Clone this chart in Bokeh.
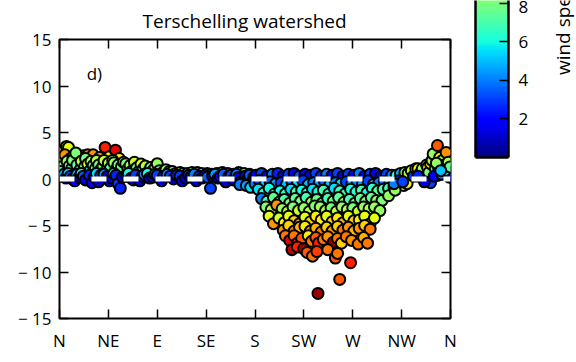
import numpy as np
from bokeh.plotting import figure
from bokeh.models import (ColumnDataSource, LinearColorMapper, Range1d, LinearAxis,
                          FixedTicker, Label, Span, CustomLabelingPolicy)
from bokeh.transform import transform
from bokeh.layouts import row
from bokeh.embed import file_html
from bokeh.resources import INLINE

FONT = "Open Sans"

# ---- data: wind direction (deg), setup, wind speed (m/s) ----
# northerly to north-easterly winds: positive setup
ne_dir = [2, 4, 6.4, 8.3, 5, 10, 13, 18, 22, 26, 31, 37, 42, 46, 51.5, 55,
          1, 3, 5, 7, 9, 11, 12, 15, 16, 19, 20, 23, 24, 26, 28, 29, 31, 33, 34, 36,
          38, 40, 41, 43, 45, 47, 49, 50, 52, 54, 57, 59, 0.5,
          2, 4, 6, 8, 10, 12, 14, 16, 18, 20, 22, 24, 27.6, 30, 32, 34, 36, 38, 41,
          44, 46, 48, 50, 52, 54, 56, 58]
ne_surge = [2.4, 3.1, 3.5, 3.4, 2.6, 2.2, 2.5, 2.3, 2.5, 2.6, 2.6, 2.3, 3.4, 2.4, 3.1, 2.2,
            1.0, 1.35, 0.9, 1.9, 1.4, 1.1, 2.0, 2.8, 1.5, 1.0, 1.9, 1.3, 2.2, 1.6, 0.9, 1.9,
            1.45, 1.1, 2.0, 1.5, 1.0, 1.35, 2.0, 0.9, 1.7, 1.2, 2.0, 1.75, 1.0, 1.5, 1.3, 1.8, 0.8,
            0.3, 0.5, 0.1, 0.6, 0.3, 0.0, -0.2, 0.5, 0.2, 0.6, 0.3, -0.1, 0.4, -0.4, 0.2, 0.6,
            -0.3, 0.4, 0.5, 0.3, -0.2, 0.1, 0.6, 0.4, -0.5, -1.0, 0.2]
ne_speed = [10.5, 11, 10.5, 10, 12, 10, 11.5, 10, 12, 12.5, 12, 12, 14, 10.5, 14.5, 10.5,
            7, 8, 6.5, 8.5, 9, 7, 8, 8, 7.5, 6, 9, 8, 8, 10, 6, 8.5,
            8, 7, 9, 8, 6.5, 8, 9.5, 6.5, 9, 7.5, 8.5, 8.5, 6, 8, 7.5, 9, 7,
            2, 4.5, 1.5, 5.5, 3, 1, 2, 5, 1, 6, 3.5, 1.5, 2.5, 2, 2, 5.5,
            1, 3, 4.5, 2, 1.5, 1.5, 6, 2.5, 3, 2.5, 1]

# easterly to southerly winds: setup close to zero
e_dir = [61, 63, 65, 67, 69, 71, 73, 75, 77, 79, 82, 84, 86, 88, 90, 92, 95, 98, 101, 104,
         107, 111, 114, 118, 122, 127, 131, 136, 140, 145, 150, 155, 160, 165, 170, 175,
         62, 63.5, 66, 68, 70, 74, 76, 78, 81, 83, 86, 88, 90, 94, 96, 99, 102, 105, 108,
         111, 113, 116, 119, 121, 124, 126, 129, 131, 134, 136, 139, 141, 143, 146, 148,
         151, 153, 156, 158, 160, 163, 165, 167, 169, 171, 173, 175, 177, 179,
         166, 172, 176]
e_surge = [1.65, 1.1, 1.45, 0.9, 1.8, 1.2, 0.8, 1.6, 1.1, 1.4, 0.8, 1.25, 0.9, 1.2, 1.65,
           0.9, 0.7, 1.0, 0.8, 0.8, 0.6, 0.7, 0.6, 0.6, 0.7, 0.7, 0.6, 0.6, 0.5, 0.6, 0.7,
           0.6, 0.5, 0.7, 0.6, 0.5,
           0.3, 0.6, 0.1, -0.1, 0.4, -0.2, 0.3, 0.5, 0.6, 0.1, 0.2, 0.5, 0.4, -0.2, 0.3, 0.5,
           0.3, 0.0, 0.4, 0.3, -0.2, 0.1, 0.4, 0.2, 0.5, -0.2, 0.3, 0.1, 0.4, 0.2, -1.0, 0.3,
           0.5, 0.1, 0.3, 0.5, -0.3, 0.3, 0.4, -0.1, 0.5, 0.2, -0.3, -0.4, 0.3, -0.1, 0.4,
           -0.4, 0.2,
           -0.6, -0.7, -0.9]
e_speed = [8, 7.5, 8.5, 6.5, 9.5, 8, 6.5, 10, 7.5, 9, 6.5, 8, 7, 8, 8.5, 7.5, 6.5, 8.5, 7,
           7.5, 8, 9, 7, 8, 8.5, 9.5, 7.5, 10.5, 7, 7.5, 8.5, 9, 6.5, 8, 7, 6,
           2, 6, 1.5, 1, 3, 1, 2.5, 4, 6, 1.5, 2, 4.5, 3, 1.5, 2.5, 4, 3, 1, 2.5, 3, 1.5,
           1.5, 2.5, 2, 4, 1, 3, 1.5, 2, 3.5, 3, 2, 4.5, 1.5, 2, 3.5, 1, 2.5, 3, 1.5, 4, 2,
           2.5, 3, 2, 1, 3.5, 2.5, 1.5,
           4, 4.5, 5.5]

# south-westerly to westerly winds: negative setup, rows from shallow to deep
sw_dir = [181, 186, 191, 196, 201, 206, 211, 216, 221, 226, 231, 236, 241, 246, 251, 256,
          261, 266, 271, 276, 281, 286, 291, 296, 301, 306,
          180, 184, 189, 194, 199, 204, 209, 214, 219, 224, 229, 234, 239, 244, 249, 254,
          259, 264, 269, 274, 279, 284, 289, 294, 299, 304, 309, 314,
          183, 188, 193, 198, 203, 208, 213, 218, 223, 228, 233, 238, 243, 248, 253, 258,
          263, 268, 273, 278, 283, 288, 293, 298, 303, 308, 312, 317,
          186, 191, 197, 202, 207, 212, 217, 222, 227, 232, 237, 242, 247, 252, 257, 262,
          267, 272, 277, 282, 287, 292, 297, 303, 309,
          190, 195, 200, 205, 210, 215, 220, 225, 230, 235, 240, 245, 250, 255, 260, 265,
          270, 275, 280, 285, 290, 295,
          193, 197, 202, 207, 211, 216, 221, 226, 231, 236, 241, 246, 251, 256, 261, 266,
          271, 276, 281, 286, 290,
          206, 211, 216, 221, 226, 231, 236, 241, 246, 251, 256, 261, 266, 271, 276, 281, 286,
          208, 212, 216, 219, 223, 229, 232, 236, 238.5, 243, 247, 252, 256, 259.6, 264, 269,
          275, 280, 283.6,
          214, 219, 224.7, 228, 233, 237, 247, 254, 256, 268, 258, 238]
sw_surge = [0.4, 0.6, 0.3, 0.5, 0.6, 0.3, 0.5, 0.6, 0.3, 0.5, 0.4, 0.6, 0.3, 0.5, 0.4, 0.6,
            0.3, 0.5, 0.4, 0.6, 0.3, 0.5, 0.6, 0.3, 0.5, 0.4,
            -0.5, -0.2, -0.6, -0.3, -0.5, -0.4, -0.6, -0.3, -0.5, -0.2, -0.6, -0.4, -0.5, -0.3,
            -0.6, -0.4, -0.5, -0.3, -0.6, -0.4, -0.5, -0.2, -0.6, -0.4, -0.3, -0.5, -0.2, -0.3,
            -1.1, -1.5, -1.0, -1.6, -1.3, -1.6, -1.1, -1.4, -1.2, -1.5, -1.1, -1.4, -1.2, -1.6,
            -1.0, -1.3, -1.6, -1.1, -1.4, -1.2, -1.5, -1.0, -1.3, -1.1, -1.0, -0.9, -0.6, -0.7,
            -2.1, -2.4, -2.0, -2.5, -2.2, -2.6, -2.1, -2.4, -2.0, -2.5, -2.2, -2.6, -2.1, -2.4,
            -2.0, -2.5, -2.2, -2.6, -2.1, -2.4, -2.0, -2.3, -2.3, -1.8, -1.2,
            -3.0, -3.3, -2.8, -3.2, -3.5, -3.0, -3.4, -3.1, -3.5, -2.9, -3.0, -3.4, -3.1, -3.5,
            -3.0, -3.3, -3.1, -3.5, -3.0, -3.2, -3.0, -3.4,
            -4.0, -4.8, -4.2, -4.7, -4.0, -4.5, -4.8, -4.1, -4.6, -4.0, -4.4, -4.0, -4.6, -4.2,
            -4.7, -4.0, -4.5, -4.4, -4.0, -4.8, -4.2,
            -5.5, -5.0, -5.6, -5.2, -5.1, -5.6, -5.3, -5.7, -5.2, -5.6, -5.1, -5.5, -5.2, -5.6,
            -5.3, -5.0, -5.4,
            -6.1, -6.6, -6.1, -6.9, -6.4, -6.1, -6.7, -6.3, -6.9, -6.5, -6.2, -6.8, -6.4, -6.9,
            -6.2, -6.6, -7.0, -6.3, -6.9,
            -7.6, -7.3, -7.5, -7.9, -8.3, -7.8, -7.6, -8.5, -8.0, -9.0, -10.8, -12.3]
sw_speed = [2, 3, 1.5, 4, 2.5, 1.5, 3, 2, 3.5, 2, 1.5, 3, 2.5, 4, 2, 3, 1.5, 3, 2, 4, 2, 3,
            2, 1.5, 3, 4,
            4, 3, 5, 3.5, 4.5, 3, 5, 4, 5.5, 3, 5, 4, 4.5, 3.5, 5, 4, 5.5, 3, 5, 4, 4.5, 3,
            5, 4, 3.5, 5, 4, 5,
            5.5, 6.5, 6, 7, 6, 6.5, 5.5, 7, 6, 6.5, 5.5, 6, 7, 6, 5.5, 6.5, 7, 6, 6.5, 7, 6,
            6.5, 7.5, 7, 7, 8, 7.5, 10,
            4, 7, 7.5, 8, 7, 8, 7.5, 8, 7, 8.5, 7.5, 8, 7, 8, 7.5, 8.5, 7, 8, 7.5, 8, 7.5,
            8.5, 8, 8.5, 8.5,
            8, 9, 12, 8.5, 9, 8, 9.5, 8.5, 9, 8, 8.5, 9, 8, 9.5, 8.5, 9, 8, 9.5, 8.5, 9, 8.5,
            8.5,
            10, 12, 9.5, 10.5, 10, 11, 12, 10, 11, 10.5, 10.5, 10, 11, 10.5, 11.5, 10, 11,
            10.5, 10, 10.5, 10,
            12, 11, 12.5, 11.5, 10.5, 12, 11.5, 12.5, 11, 12, 11, 12.5, 12, 11.5, 12, 11, 12.5,
            12.5, 14.5, 12.5, 14, 13, 10.5, 12.5, 13, 14, 12.5, 12, 15.5, 12.5, 11, 12.5, 12,
            12.5, 11.5, 12.5,
            15, 14, 15.5, 13, 12.5, 13.5, 12.5, 13, 12.5, 14, 13, 15.5]

# north-westerly winds: setup rising again towards north
nw_dir = [310, 314, 318, 321, 320, 324, 326, 328, 330, 332, 334, 336, 338, 339, 340, 341.6,
          341.6, 343, 344, 346, 348, 348, 349, 350, 352.6, 354, 356, 357, 358, 359, 345, 352,
          336, 330, 312, 308, 316, 355, 359.5, 347, 351]
nw_surge = [0.4, 0.6, 0.7, 0.6, -0.5, 0.9, 0.3, 1.1, 1.1, 0.6, 1.1, 0.2, 1.5, 1.25, 0.7, 1.65,
            -0.4, 2.0, 2.7, 1.1, 3.6, 0.4, 1.25, 2.3, 2.0, 1.5, 2.85, 0.6, 1.8, 0.2, 0.3, 0.5,
            -0.3, 0.3, -0.2, -0.5, -0.3, 0.9, 1.3, 1.7, 0.9]
nw_speed = [6, 5, 8, 9, 10.5, 9.5, 3, 8, 10.5, 6, 8.5, 2, 9, 10.5, 8, 10.5, 3, 9, 8.5, 6.5,
            13, 3, 6.5, 10, 8.5, 7, 12, 4.5, 9, 2, 2, 4, 1.5, 2.5, 2.5, 4, 3, 6, 7.5, 8.5, 5]

DIR_TICKS = [0, 45, 90, 135, 180, 225, 270, 315, 360]
DIR_LABELS = ["N", "NE", "E", "SE", "S", "SW", "W", "NW", "N"]
SETUP_TICKS = [-15, -10, -5, 0, 5, 10, 15]
SPEED_TICKS = [2, 4, 6, 8]
SPEED_LOW, SPEED_HIGH = 0, 16
SPEED_TITLE = "wind speed (m/s)"


def jet(n=256):
    """matplotlib-style jet colormap as hex strings."""
    t = np.linspace(0, 1, n)
    r = np.interp(t, [0, 0.35, 0.66, 0.89, 1], [0, 0, 1, 1, 0.5])
    g = np.interp(t, [0, 0.125, 0.375, 0.64, 0.91, 1], [0, 0, 1, 1, 0, 0])
    b = np.interp(t, [0, 0.11, 0.34, 0.65, 1], [0.5, 1, 1, 0, 0])
    return ["#%02x%02x%02x" % (int(round(a * 255)), int(round(c * 255)), int(round(d * 255)))
            for a, c, d in zip(r, g, b)]


JET = jet()
mapper = LinearColorMapper(palette=JET, low=SPEED_LOW, high=SPEED_HIGH)

src = ColumnDataSource(dict(
    direction=ne_dir + e_dir + sw_dir + nw_dir,
    setup=ne_surge + e_surge + sw_surge + nw_surge,
    speed=ne_speed + e_speed + sw_speed + nw_speed,
))

# hides every tick label of the tick-only frame axes
NO_LABELS = CustomLabelingPolicy(code="for (const i of indices) indices.unset(i)")

# ---- main scatter panel ----
p = figure(width=460, height=362, x_range=Range1d(0, 360), y_range=Range1d(-15, 15),
           output_backend="svg", toolbar_location=None,
           min_border_left=59, min_border_right=10, min_border_top=39, min_border_bottom=44,
           title="Terschelling watershed")
p.frame_align = False
p.title.text_font = FONT
p.title.text_font_size = "19px"
p.title.text_font_style = "normal"
p.title.align = "left"
p.title.offset = 83
p.title.text_color = "black"
p.title.standoff = 1
p.grid.visible = False
p.background_fill_color = "white"
p.border_fill_color = "white"
p.outline_line_color = "black"
p.outline_line_width = 2
p.outline_line_alpha = 1


def style_axis(ax, labels=True):
    ax.axis_line_color = None
    ax.major_tick_in = 9
    ax.major_tick_out = 0
    ax.major_tick_line_width = 1.5
    ax.major_tick_line_color = "black"
    ax.minor_tick_line_color = None
    ax.major_label_text_font = FONT
    ax.major_label_text_color = "black"
    if labels:
        ax.major_label_text_font_size = "17px"
    else:
        ax.major_label_policy = NO_LABELS
        ax.major_label_text_font_size = "1px"
        ax.major_label_standoff = 0


p.xaxis.ticker = FixedTicker(ticks=DIR_TICKS)
p.xaxis.major_label_overrides = {t: l for t, l in zip(DIR_TICKS, DIR_LABELS)}
style_axis(p.xaxis[0])
p.xaxis.major_label_standoff = 10

p.yaxis.ticker = FixedTicker(ticks=SETUP_TICKS)
p.yaxis.major_label_overrides = {t: (("\u2212 %d" % -t) if t < 0 else str(t)) for t in SETUP_TICKS}
style_axis(p.yaxis[0])
p.yaxis.major_label_standoff = 8

top_ax = LinearAxis(ticker=FixedTicker(ticks=DIR_TICKS))
style_axis(top_ax, labels=False)
p.add_layout(top_ax, "above")
right_ax = LinearAxis(ticker=FixedTicker(ticks=SETUP_TICKS))
style_axis(right_ax, labels=False)
p.add_layout(right_ax, "right")

p.scatter(x="direction", y="setup", source=src, size=11,
          fill_color=transform("speed", mapper), line_color="black", line_width=2)

p.add_layout(Span(location=0, dimension="width", line_color="white",
                  line_width=5, line_dash="15 17"))

p.add_layout(Label(x=25, y=11.3, text="d)", text_font=FONT, text_font_size="17px",
                   text_baseline="middle", text_align="left", text_color="black"))

# ---- colour bar panel ----
CB_TOP = 8.15
cb = figure(width=88, height=362, x_range=Range1d(0, 1), y_range=Range1d(SPEED_LOW, CB_TOP),
            output_backend="svg", toolbar_location=None,
            min_border_left=15, min_border_right=40, min_border_top=0, min_border_bottom=205,
            x_axis_location="below", y_axis_location="right")
cb.frame_align = False
cb.grid.visible = False
cb.outline_line_color = None
cb.border_fill_color = "white"

# smooth gradient through the full speed range of the mapper
gradient = np.linspace(SPEED_LOW, SPEED_HIGH, 1024).reshape(-1, 1)
cb.image(image=[gradient], x=0, y=SPEED_LOW, dw=1, dh=SPEED_HIGH - SPEED_LOW,
         color_mapper=mapper)

cb.xaxis.ticker = FixedTicker(ticks=[])
cb.xaxis.major_tick_line_color = None
cb.xaxis.minor_tick_line_color = None
cb.xaxis.major_label_policy = NO_LABELS
cb.xaxis.major_label_text_font_size = "1px"
cb.xaxis.axis_line_width = 2.5
cb.xaxis.axis_line_color = "black"

cb.yaxis.ticker = FixedTicker(ticks=SPEED_TICKS)
cb.yaxis.major_tick_in = 9
cb.yaxis.major_tick_out = 0
cb.yaxis.major_tick_line_width = 1.5
cb.yaxis.minor_tick_line_color = None
cb.yaxis.axis_line_width = 2.5
cb.yaxis.axis_line_color = "black"
cb.yaxis.major_label_text_font = FONT
cb.yaxis.major_label_text_font_size = "17px"
cb.yaxis.major_label_text_color = "black"
cb.yaxis.major_label_standoff = 10

left_cb = LinearAxis(ticker=FixedTicker(ticks=[]))
left_cb.major_label_policy = NO_LABELS
left_cb.major_label_text_font_size = "1px"
left_cb.major_tick_line_color = None
left_cb.minor_tick_line_color = None
left_cb.axis_line_width = 2.5
left_cb.axis_line_color = "black"
cb.add_layout(left_cb, "left")

# ---- strip carrying the colour bar title (centred on the full bar height) ----
lab = figure(width=28, height=362, x_range=Range1d(0, 28), y_range=Range1d(0, 362),
             output_backend="svg", toolbar_location=None,
             min_border_left=0, min_border_right=0, min_border_top=0, min_border_bottom=0,
             x_axis_location=None, y_axis_location=None)
lab.frame_align = False
lab.grid.visible = False
lab.outline_line_color = None
lab.border_fill_color = "white"
lab.add_layout(Label(x=14, y=363, text=SPEED_TITLE, angle=np.pi / 2,
                     text_font=FONT, text_font_size="19px", text_align="center",
                     text_baseline="middle", text_color="black"))

layout = row(p, cb, lab)
open("out.html", "w").write(file_html(layout, INLINE))
